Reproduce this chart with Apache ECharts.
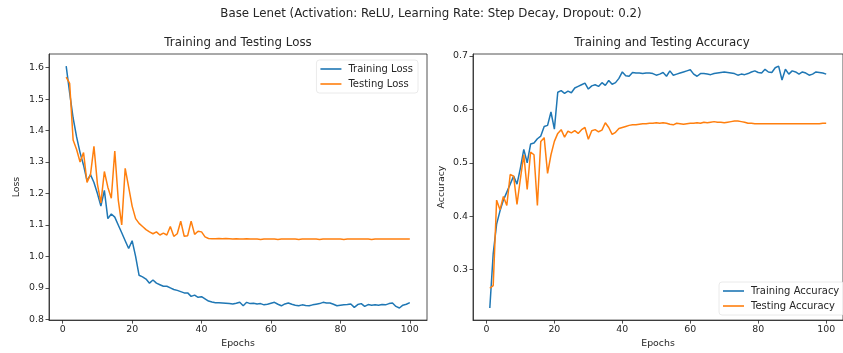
<!DOCTYPE html>
<html>
<head>
<meta charset="utf-8">
<script src="https://cdn.jsdelivr.net/npm/echarts@6/dist/echarts.min.js"></script>
<style>
  html, body { margin: 0; padding: 0; background: #fff; }
  #chart { width: 843px; height: 353px; }
</style>
</head>
<body>
<div id="chart"></div>
<script>
// Per-epoch training history (epochs 1..100)
const trainLoss = [
  1.605, 1.52, 1.44, 1.38, 1.33, 1.29, 1.24, 1.26, 1.235, 1.20,
  1.16, 1.21, 1.12, 1.135, 1.125, 1.10, 1.075, 1.05, 1.025, 1.05,
  1.00, 0.94, 0.935, 0.928, 0.915, 0.925, 0.915, 0.91, 0.905, 0.905,
  0.90, 0.895, 0.892, 0.888, 0.884, 0.884, 0.873, 0.877, 0.870, 0.872,
  0.865, 0.858, 0.855, 0.853, 0.853, 0.852, 0.851, 0.850, 0.849, 0.851,
  0.854, 0.843, 0.854, 0.850, 0.851, 0.849, 0.850, 0.846, 0.848, 0.851,
  0.854, 0.848, 0.843, 0.849, 0.852, 0.848, 0.845, 0.843, 0.846, 0.844,
  0.843, 0.846, 0.848, 0.850, 0.854, 0.852, 0.852, 0.848, 0.843, 0.845,
  0.846, 0.847, 0.849, 0.838, 0.847, 0.850, 0.841, 0.847, 0.845, 0.846,
  0.845, 0.847, 0.846, 0.850, 0.852, 0.841, 0.836, 0.845, 0.848, 0.853
];
const testLoss = [
  1.57, 1.55, 1.37, 1.34, 1.30, 1.33, 1.235, 1.26, 1.35, 1.23,
  1.17, 1.27, 1.22, 1.185, 1.335, 1.18, 1.10, 1.28, 1.22, 1.16,
  1.12, 1.105, 1.095, 1.085, 1.078, 1.072, 1.078, 1.068, 1.074, 1.068,
  1.095, 1.064, 1.072, 1.112, 1.064, 1.066, 1.112, 1.07, 1.08, 1.078,
  1.062, 1.057, 1.056, 1.056, 1.057, 1.056, 1.057, 1.056, 1.055, 1.056,
  1.055, 1.055, 1.056, 1.055, 1.055, 1.055, 1.054, 1.055, 1.055, 1.055,
  1.055, 1.054, 1.055, 1.055, 1.055, 1.055, 1.055, 1.054, 1.055, 1.055,
  1.055, 1.055, 1.055, 1.054, 1.055, 1.055, 1.055, 1.055, 1.055, 1.055,
  1.054, 1.055, 1.055, 1.055, 1.055, 1.055, 1.055, 1.055, 1.054, 1.055,
  1.055, 1.055, 1.055, 1.055, 1.055, 1.055, 1.055, 1.055, 1.055, 1.055
];
const trainAcc = [
  0.228, 0.33, 0.385, 0.41, 0.43, 0.445, 0.46, 0.475, 0.46, 0.49,
  0.525, 0.50, 0.535, 0.537, 0.545, 0.55, 0.568, 0.57, 0.595, 0.563,
  0.632, 0.635, 0.630, 0.634, 0.631, 0.640, 0.643, 0.646, 0.649, 0.638,
  0.644, 0.646, 0.643, 0.650, 0.645, 0.654, 0.647, 0.650, 0.658, 0.670,
  0.663, 0.662, 0.669, 0.668, 0.668, 0.667, 0.668, 0.668, 0.667, 0.664,
  0.666, 0.669, 0.662, 0.672, 0.664, 0.666, 0.668, 0.670, 0.672, 0.674,
  0.666, 0.662, 0.667, 0.667, 0.666, 0.665, 0.667, 0.668, 0.669, 0.670,
  0.669, 0.668, 0.667, 0.664, 0.666, 0.665, 0.667, 0.670, 0.672, 0.669,
  0.668, 0.675, 0.670, 0.669, 0.678, 0.681, 0.655, 0.675, 0.666, 0.672,
  0.670, 0.666, 0.670, 0.668, 0.664, 0.666, 0.670, 0.669, 0.668, 0.666
];
const testAcc = [
  0.265, 0.27, 0.43, 0.412, 0.437, 0.42, 0.478, 0.475, 0.422, 0.47,
  0.515, 0.45, 0.52, 0.515, 0.42, 0.54, 0.547, 0.48, 0.515, 0.54,
  0.555, 0.562, 0.548, 0.559, 0.556, 0.56, 0.555, 0.562, 0.566, 0.544,
  0.56, 0.562, 0.558, 0.561, 0.575, 0.566, 0.553, 0.557, 0.564, 0.566,
  0.568, 0.57, 0.571, 0.571, 0.572, 0.573, 0.573, 0.574, 0.574, 0.575,
  0.574, 0.575, 0.574, 0.572, 0.571, 0.574, 0.573, 0.572, 0.573, 0.574,
  0.574, 0.575, 0.574, 0.576, 0.575, 0.576, 0.577, 0.576, 0.576, 0.575,
  0.576, 0.577, 0.578, 0.578, 0.577, 0.576, 0.574, 0.574, 0.573, 0.573,
  0.573, 0.573, 0.573, 0.573, 0.573, 0.573, 0.573, 0.573, 0.573, 0.573,
  0.573, 0.573, 0.573, 0.573, 0.573, 0.573, 0.573, 0.573, 0.574, 0.574
];

// Tick labels
const epochTicks = [0, 20, 40, 60, 80, 100];
const lossTicks = [0.8, 0.9, 1.0, 1.1, 1.2, 1.3, 1.4, 1.5, 1.6];
const accTicks = [0.3, 0.4, 0.5, 0.6, 0.7];

const FONT = 'DejaVu Sans';
const INK = '#262626';
const BLUE = '#1f77b4';
const ORANGE = '#ff7f0e';
const TITLE_SIZE = 11.8;
const SMALL_SIZE = 9.4;

const pairs = vals => vals.map((v, i) => [i + 1, v]);

// Pad an axis range by 5% of the data span on each side
function padded(lo, hi) {
  const m = (hi - lo) * 0.05;
  return { min: lo - m, max: hi + m };
}
const xRange = padded(1, 100);
const lossRange = padded(
  Math.min(...trainLoss, ...testLoss), Math.max(...trainLoss, ...testLoss));
const accRange = padded(
  Math.min(...trainAcc, ...testAcc), Math.max(...trainAcc, ...testAcc));

function xAxis(gridIndex) {
  return {
    type: 'value', gridIndex,
    min: xRange.min, max: xRange.max,
    name: 'Epochs', nameLocation: 'middle', nameGap: 18,
    nameTextStyle: { fontFamily: FONT, fontSize: SMALL_SIZE, color: INK },
    axisLine: { onZero: false, lineStyle: { color: INK, width: 0.8 } },
    axisTick: { show: true, length: 3.5, inside: false, customValues: epochTicks,
                lineStyle: { color: INK, width: 0.8 } },
    axisLabel: { customValues: epochTicks, fontFamily: FONT, fontSize: SMALL_SIZE,
                 color: INK, margin: 5, formatter: v => String(Math.round(v)) },
    splitLine: { show: false }
  };
}
function yAxis(gridIndex, name, range, ticks, gap) {
  return {
    type: 'value', gridIndex,
    min: range.min, max: range.max,
    name, nameLocation: 'middle', nameGap: gap, nameRotate: 90,
    nameTextStyle: { fontFamily: FONT, fontSize: SMALL_SIZE, color: INK },
    axisLine: { show: true, onZero: false, lineStyle: { color: INK, width: 0.8 } },
    axisTick: { show: true, length: 3.5, inside: false, customValues: ticks,
                lineStyle: { color: INK, width: 0.8 } },
    axisLabel: { customValues: ticks, fontFamily: FONT, fontSize: SMALL_SIZE,
                 color: INK, margin: 5, formatter: v => v.toFixed(1) },
    splitLine: { show: false }
  };
}
function lineSeries(name, vals, color, axisIndex) {
  return {
    type: 'line', name, data: pairs(vals),
    xAxisIndex: axisIndex, yAxisIndex: axisIndex,
    showSymbol: false, symbol: 'none', clip: true,
    lineStyle: { color, width: 1.5 }, itemStyle: { color },
    emphasis: { disabled: true }, animation: false
  };
}
function legend(names, pos) {
  return Object.assign({
    data: names, orient: 'vertical',
    icon: 'rect', itemWidth: 21, itemHeight: 1.6, itemGap: 5,
    padding: [4, 5, 4, 4],
    borderColor: '#e4e4e4', borderWidth: 0.8, borderRadius: 3,
    backgroundColor: 'rgba(255,255,255,0.8)',
    textStyle: { fontFamily: FONT, fontSize: 10, color: INK, lineHeight: 10, padding: [0, 0, 0, 2] },
    selectedMode: false
  }, pos);
}

const chart = echarts.init(document.getElementById('chart'), null, { renderer: 'canvas' });
chart.setOption({
  animation: false,
  backgroundColor: '#fff',
  title: [
    { text: 'Base Lenet (Activation: ReLU, Learning Rate: Step Decay, Dropout: 0.2)',
      left: 431, top: 8, textAlign: 'center', padding: 0,
      textStyle: { fontFamily: FONT, fontSize: TITLE_SIZE, fontWeight: 'normal', color: INK } },
    { text: 'Training and Testing Loss',
      left: 238, top: 37, textAlign: 'center', padding: 0,
      textStyle: { fontFamily: FONT, fontSize: TITLE_SIZE, fontWeight: 'normal', color: INK } },
    { text: 'Training and Testing Accuracy',
      left: 662, top: 37, textAlign: 'center', padding: 0,
      textStyle: { fontFamily: FONT, fontSize: TITLE_SIZE, fontWeight: 'normal', color: INK } }
  ],
  grid: [
    { left: 49, top: 54, width: 378, height: 268, show: true,
      borderColor: INK, borderWidth: 0.8, backgroundColor: 'transparent' },
    { left: 473, top: 54, width: 377, height: 268, show: true,
      borderColor: INK, borderWidth: 0.8, backgroundColor: 'transparent' }
  ],
  xAxis: [xAxis(0), xAxis(1)],
  yAxis: [
    yAxis(0, 'Loss', lossRange, lossTicks, 28),
    yAxis(1, 'Accuracy', accRange, accTicks, 27)
  ],
  legend: [
    legend(['Training Loss', 'Testing Loss'], { right: 425, top: 60 }),
    legend(['Training Accuracy', 'Testing Accuracy'], { left: 719, top: 282 })
  ],
  series: [
    lineSeries('Training Loss', trainLoss, BLUE, 0),
    lineSeries('Testing Loss', testLoss, ORANGE, 0),
    lineSeries('Training Accuracy', trainAcc, BLUE, 1),
    lineSeries('Testing Accuracy', testAcc, ORANGE, 1)
  ]
});
</script>
</body>
</html>
